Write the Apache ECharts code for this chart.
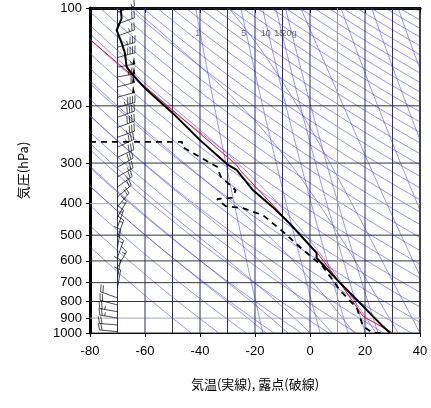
<!DOCTYPE html>
<html><head><meta charset="utf-8">
<script src="https://cdn.jsdelivr.net/npm/echarts@6/dist/echarts.min.js"></script>
<style>html,body{margin:0;padding:0;background:#fff}#c{width:431px;height:408px}</style>
</head><body><div id="c"></div>
<script>
// Observed temperature profile [T degC, p hPa]
const tempP = [100.9,107.6,116.9,128,137.6,151.5,157,178.6,211,255,304,315,364,410,461,567,588,701,790,889,954,1000];
const tempT = [-68.8,-68.5,-70.3,-68.5,-67.3,-66.7,-65.5,-59.4,-49.8,-40,-29.8,-26.7,-20.7,-13.5,-7.3,2.4,2.4,10.9,17,22.9,26.5,29.1];
// Dew point profile
const dewP = [258,258,267,283,308,330,364,384,387,407,413,434,488,555,625,739,837,954,1000,1000];
const dewT = [-100,-46.5,-46.5,-41.5,-33.8,-32.5,-27,-28.4,-33.8,-30.7,-24.4,-17.1,-9.8,-2.5,4.7,10.9,17,19.3,22.9,26];
// Lifted parcel (red)
const parP = [125,304,315,563,701,889,1000];
const parT = [-80,-26.7,-25.5,2.4,10.9,19.3,30.2];
// Wind barbs: pressure, speed (kt), screen angle (deg, 0 = right, positive = up)
const barbP = [103,112,122,132,142,152,163,175,188,202,217,233,250,268,288,309,331,355,381,409,440,472,507,545,585,628,675,725,780,820,860,900,945,990];
const barbS = [15,20,25,35,45,55,65,60,50,45,40,40,35,35,30,30,25,25,20,20,15,15,15,10,15,15,10,10,20,20,25,25,20,20];
const barbA = [20,20,20,15,15,10,10,15,15,15,20,20,20,25,25,30,30,35,40,50,60,70,70,80,70,60,80,80,160,165,170,170,175,175];
// Background reference lines parameters
const dryTheta = [];
for (let t = 230; t <= 620; t += 10) dryTheta.push(t);
const moistTw = [-16,-8,0,8,16,24,32,40,50,60,70,80];
const mixW = [1,5,10,15,20];
const xTicks = [-80,-60,-40,-20,0,20,40];
const yTicks = [100,200,300,400,500,600,700,800,900,1000];

const zip = (P,T) => P.map((p,i)=>[T[i],p]);
const pLevels = [];
for (let p = 1000; p >= 100; p -= 10) pLevels.push(p);

function satE(T){ return 6.112*Math.exp(17.67*T/(T+243.5)); }
const blue = {color:'#3535ff',width:0.6,opacity:0.9};
const series = [];
function addLine(data, style, z){
  series.push({type:'line',data,showSymbol:false,silent:true,clip:true,animation:false,lineStyle:style,z:z||1});
}
dryTheta.forEach(th=>addLine(pLevels.map(p=>[th*Math.pow(p/1000,0.2857)-273.15,p]),blue));
moistTw.forEach(tw=>{
  let T = tw+273.15, p = 1000, pts=[[tw,1000]];
  const Rd=287,cp=1005,L=2.5e6,eps=0.622;
  while(p>100){
    const dp=-2;
    const es=satE(T-273.15), rs=eps*es/(p-es);
    const dTdp=(Rd*T+L*rs)/(p*(cp+L*L*rs*eps/(Rd*T*T)));
    T+=dTdp*dp; p+=dp;
    if(p%10===0) pts.push([T-273.15,p]);
  }
  addLine(pts,blue);
});
mixW.forEach(w=>{
  const pts=pLevels.filter(p=>p>=100).map(p=>{const e=w*p/(622+w);const l=Math.log(e/6.112);return [243.5*l/(17.67-l),p];});
  addLine(pts,blue);
});
series.push({type:'scatter',symbolSize:0,silent:true,data:mixW.map(w=>{const p=120,e=w*p/(622+w),l=Math.log(e/6.112);return {value:[243.5*l/(17.67-l)-1,p],w};}),
  label:{show:true,formatter:d=>d.data.w+(d.data.w===20?'g':''),color:'#444',fontSize:9,fontFamily:'Liberation Sans'}});
// grid lines
yTicks.forEach(p=>addLine([[-80,p],[40,p]],{color:(p===400||p===900)?'#aaa':'#333',width:1},2));
for(let t=-70;t<40;t+=10) addLine([[t,100],[t,1000]],{color:t===10?'#999':'#2a2a80',width:1},2);
addLine(zip(parP,parT),{color:'#ff0000',width:1},5);
addLine(zip(tempP,tempT),{color:'#000',width:2},6);
addLine(zip(dewP,dewT),{color:'#000',width:1.8,type:[6,5]},6);
series.push({type:'custom',silent:true,z:7,data:barbP.map((p,i)=>[-70,p,barbS[i],barbA[i]]),
  renderItem:(params,api)=>{
    const o=api.coord([api.value(0),api.value(1)]);
    const s=api.value(2),a=api.value(3)*Math.PI/180;
    const dx=Math.cos(a),dy=-Math.sin(a),len=18;
    const end=[o[0]+dx*len,o[1]+dy*len];
    const ch=[{type:'line',shape:{x1:o[0],y1:o[1],x2:end[0],y2:end[1]},style:{stroke:'#000',lineWidth:0.7}}];
    let rem=s,pos=0;
    const px=-dy,py=dx;
    const side= (a>Math.PI/2)? -1:1;
    while(rem>=50){const b=[end[0]-dx*pos,end[1]-dy*pos];const b2=[b[0]-dx*3,b[1]-dy*3];
      ch.push({type:'polygon',shape:{points:[b,[b[0]-px*7*side,b[1]-py*7*side],b2]},style:{fill:'#000'}});rem-=50;pos+=4;}
    while(rem>=10){const b=[end[0]-dx*pos,end[1]-dy*pos];
      ch.push({type:'line',shape:{x1:b[0],y1:b[1],x2:b[0]-px*7*side+dx*2,y2:b[1]-py*7*side+dy*2},style:{stroke:'#000',lineWidth:0.7}});rem-=10;pos+=2.5;}
    if(rem>=5){const b=[end[0]-dx*pos,end[1]-dy*pos];
      ch.push({type:'line',shape:{x1:b[0],y1:b[1],x2:b[0]-px*3.5*side,y2:b[1]-py*3.5*side},style:{stroke:'#000',lineWidth:0.7}});}
    return {type:'group',children:ch};
  }});

const font='Liberation Sans';
const chart=echarts.init(document.getElementById('c'));
chart.setOption({
  animation:false,
  grid:{left:90,right:11,top:8,bottom:75},
  xAxis:[{type:'value',min:-80,max:40,interval:20,position:'bottom',
    name:'気温(実線), 露点(破線)',nameLocation:'middle',nameGap:45,nameTextStyle:{fontSize:13,color:'#000',fontFamily:'Noto Sans CJK JP'},
    axisLine:{onZero:false,lineStyle:{color:'#000',width:1}},axisTick:{show:true,length:4,inside:false,lineStyle:{color:'#000'}},
    axisLabel:{color:'#000',fontSize:13,fontFamily:font,margin:12},splitLine:{show:false}},
    {type:'value',min:-80,max:40,interval:10,position:'top',axisLine:{onZero:false,lineStyle:{color:'#000',width:3}},
    axisTick:{inside:true,length:5,lineStyle:{color:'#000'}},axisLabel:{show:false},splitLine:{show:false}}],
  yAxis:[{type:'log',logBase:10,min:100,max:1000,inverse:true,position:'left',
    name:'気圧(hPa)',nameLocation:'middle',nameGap:60,nameRotate:90,nameTextStyle:{fontSize:13,color:'#000',fontFamily:'Noto Sans CJK JP'},
    axisLine:{onZero:false,lineStyle:{color:'#000',width:3}},axisTick:{show:true,customValues:yTicks,length:4,lineStyle:{color:'#000'}},
    axisLabel:{customValues:yTicks,formatter:v=>String(Math.round(v)),color:'#000',fontSize:13,fontFamily:font,margin:8},splitLine:{show:false}},
    {type:'log',logBase:10,min:100,max:1000,inverse:true,position:'right',axisLine:{onZero:false,lineStyle:{color:'#000',width:1.5}},
    axisTick:{show:false},axisLabel:{show:false},splitLine:{show:false}}],
  series
});
</script></body></html>
